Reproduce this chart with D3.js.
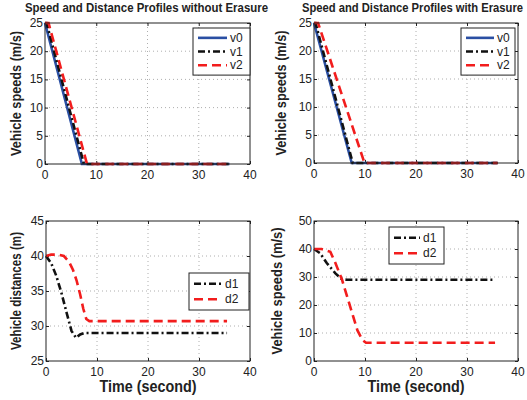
<!DOCTYPE html>
<html>
<head>
<meta charset="utf-8">
<script src="https://cdn.jsdelivr.net/npm/d3@7"></script>
<style>
  body { margin: 0; background: #fff; }
  svg { display: block; }
  .tick-label { font-family: "Liberation Sans", Arial, sans-serif; font-size: 12px; fill: #222; }
  .bold-label { font-family: "Liberation Sans Narrow", "Liberation Sans", Arial, sans-serif; font-weight: bold; fill: #222; }
</style>
</head>
<body>
<div id="chart"></div>
<script>
// tick values
const timeTicks = [0, 10, 20, 30, 40];
const speedTicks = [0, 5, 10, 15, 20, 25];
const distTicks = [25, 30, 35, 40, 45];
const distTicks2 = [0, 10, 20, 30, 40, 50];

// top left: speeds without erasure, [time, speed]
const v0NoErasure = [[0, 25], [7.2, 0], [36, 0]];
const v1NoErasure = [[0, 25], [0.3, 25], [7.6, 0], [36, 0]];
const v2NoErasure = [[0, 25], [0.7, 25], [8.2, 0], [36, 0]];

// top right: speeds with erasure
const v0Erasure = [[0, 25], [7.4, 0], [36, 0]];
const v1Erasure = [[0, 25], [0.3, 25], [7.6, 0], [36, 0]];
const v2Erasure = [[0, 25], [0.8, 25], [9.9, 0], [36, 0]];

// bottom left: distances without erasure
const d1NoErasure = [[0, 40], [1, 39], [2, 37.2], [3, 34.8], [4, 32], [5, 29.3], [5.9, 28.3], [6.7, 28.8], [7.5, 29], [35.5, 29]];
const d2NoErasure = [[0, 40], [1, 40.2], [2.5, 40.2], [3.5, 40], [4.5, 39.2], [5.3, 38], [6, 36.5], [6.7, 34.5], [7.3, 32.5], [7.9, 31], [8.5, 30.7], [35.5, 30.7]];

// bottom right: distances with erasure
const d1Erasure = [[0, 40], [1.2, 38.5], [2.5, 35], [4.2, 31.3], [5.5, 29.2], [6.5, 29], [35.5, 29]];
const d2Erasure = [[0, 40], [1.5, 40], [3.2, 39], [4.2, 35], [5.5, 29], [6.5, 23], [7.5, 17], [8.5, 11], [9.5, 7.5], [10.2, 6.5], [35.5, 6.5]];

const styles = {
  v0: { color: "#2a4fa3", dash: null },
  v1: { color: "#111", dash: "7,3,2,3" },
  v2: { color: "#f21d1d", dash: "9,5" },
  d1: { color: "#111", dash: "7,3,2,3" },
  d2: { color: "#f21d1d", dash: "9,5" }
};

const svg = d3.select("#chart").append("svg")
    .attr("width", 527)
    .attr("height", 400);

function drawPanel(p) {
  const x = d3.scaleLinear().domain([0, 40]).range([p.left, p.right]);
  const y = d3.scaleLinear().domain(p.yDomain).range([p.bottom, p.top]);
  const g = svg.append("g");

  // grid
  g.append("g")
    .selectAll("line")
    .data(timeTicks.slice(1, -1))
    .enter()
    .append("line")
      .attr("x1", d => x(d)).attr("x2", d => x(d))
      .attr("y1", p.top).attr("y2", p.bottom)
      .attr("stroke", "#999").attr("stroke-width", 0.8)
      .attr("stroke-dasharray", "1,3");
  g.append("g")
    .selectAll("line")
    .data(p.yTicks.slice(1, -1))
    .enter()
    .append("line")
      .attr("x1", p.left).attr("x2", p.right)
      .attr("y1", d => y(d)).attr("y2", d => y(d))
      .attr("stroke", "#999").attr("stroke-width", 0.8)
      .attr("stroke-dasharray", "1,3");

  // inward ticks
  const tickLen = 3;
  g.append("g").call(d3.axisTop(x).tickValues(timeTicks).tickSize(tickLen).tickFormat(""))
    .attr("transform", `translate(0,${p.bottom})`)
    .call(a => a.select(".domain").remove());
  g.append("g").call(d3.axisBottom(x).tickValues(timeTicks).tickSize(tickLen).tickFormat(""))
    .attr("transform", `translate(0,${p.top})`)
    .call(a => a.select(".domain").remove());
  g.append("g").call(d3.axisRight(y).tickValues(p.yTicks).tickSize(tickLen).tickFormat(""))
    .attr("transform", `translate(${p.left},0)`)
    .call(a => a.select(".domain").remove());
  g.append("g").call(d3.axisLeft(y).tickValues(p.yTicks).tickSize(tickLen).tickFormat(""))
    .attr("transform", `translate(${p.right},0)`)
    .call(a => a.select(".domain").remove());
  g.selectAll(".tick line").attr("stroke", "#222");

  // tick labels
  g.append("g")
    .selectAll("text")
    .data(timeTicks)
    .enter()
    .append("text")
      .attr("class", "tick-label")
      .attr("x", d => x(d))
      .attr("y", p.bottom + 15)
      .attr("text-anchor", "middle")
      .text(d => d);
  g.append("g")
    .selectAll("text")
    .data(p.yTicks)
    .enter()
    .append("text")
      .attr("class", "tick-label")
      .attr("x", p.left - 2)
      .attr("y", d => y(d) + 4)
      .attr("text-anchor", "end")
      .text(d => d);

  // series
  const line = d3.line().x(d => x(d[0])).y(d => y(d[1]));
  p.series.forEach(s => {
    g.append("path")
      .datum(s.data)
      .attr("d", line)
      .attr("fill", "none")
      .attr("stroke", styles[s.name].color)
      .attr("stroke-width", 2.6)
      .attr("stroke-dasharray", styles[s.name].dash);
  });

  // box
  g.append("rect")
    .attr("x", p.left).attr("y", p.top)
    .attr("width", p.right - p.left).attr("height", p.bottom - p.top)
    .attr("fill", "none").attr("stroke", "#222").attr("stroke-width", 1);

  // legend
  const lg = p.legend;
  const rowH = lg.rowH;
  const lh = rowH * p.series.length + 6;
  const leg = g.append("g").attr("transform", `translate(${lg.x},${lg.y})`);
  leg.append("rect")
    .attr("width", lg.w).attr("height", lh)
    .attr("fill", "#fff").attr("stroke", "#222").attr("stroke-width", 1);
  p.series.forEach((s, i) => {
    const cy = 3 + rowH * (i + 0.5);
    leg.append("line")
      .attr("x1", 5).attr("x2", lg.lineW)
      .attr("y1", cy).attr("y2", cy)
      .attr("stroke", styles[s.name].color)
      .attr("stroke-width", 2.6)
      .attr("stroke-dasharray", styles[s.name].dash);
    leg.append("text")
      .attr("class", "tick-label")
      .attr("x", lg.lineW + 3)
      .attr("y", cy + 4)
      .text(s.name);
  });

  // axis labels
  svg.append("text")
    .attr("class", "bold-label")
    .attr("transform", `translate(${p.ylabelX},${(p.top + p.bottom) / 2}) rotate(-90)`)
    .attr("text-anchor", "middle")
    .attr("font-size", 15)
    .attr("textLength", p.ylabelW)
    .attr("lengthAdjust", "spacingAndGlyphs")
    .text(p.ylabel);

  if (p.title) {
    svg.append("text")
      .attr("class", "bold-label")
      .attr("x", p.titleX)
      .attr("y", 12)
      .attr("font-size", 12)
      .attr("textLength", p.titleW)
      .attr("lengthAdjust", "spacingAndGlyphs")
      .text(p.title);
  }
  if (p.xlabel) {
    svg.append("text")
      .attr("class", "bold-label")
      .attr("x", (p.left + p.right) / 2)
      .attr("y", 392)
      .attr("text-anchor", "middle")
      .attr("font-size", 16)
      .attr("textLength", 97)
      .attr("lengthAdjust", "spacingAndGlyphs")
      .text(p.xlabel);
  }
}

drawPanel({
  left: 45, right: 250, top: 23, bottom: 164,
  yDomain: [0, 25], yTicks: speedTicks,
  series: [{ name: "v0", data: v0NoErasure }, { name: "v1", data: v1NoErasure }, { name: "v2", data: v2NoErasure }],
  legend: { x: 193, y: 28, w: 57, rowH: 13.7, lineW: 34 },
  ylabel: "Vehicle speeds (m/s)", ylabelX: 21, ylabelW: 125,
  title: "Speed and Distance Profiles without Erasure", titleX: 25, titleW: 243
});

drawPanel({
  left: 314, right: 518, top: 23, bottom: 163,
  yDomain: [0, 25], yTicks: speedTicks,
  series: [{ name: "v0", data: v0Erasure }, { name: "v1", data: v1Erasure }, { name: "v2", data: v2Erasure }],
  legend: { x: 461, y: 28, w: 54, rowH: 13.7, lineW: 33 },
  ylabel: "Vehicle speeds (m/s)", ylabelX: 286, ylabelW: 125,
  title: "Speed and Distance Profiles with Erasure", titleX: 302, titleW: 221
});

drawPanel({
  left: 46, right: 250, top: 221, bottom: 361,
  yDomain: [25, 45], yTicks: distTicks,
  series: [{ name: "d1", data: d1NoErasure }, { name: "d2", data: d2NoErasure }],
  legend: { x: 189, y: 273, w: 60, rowH: 15.5, lineW: 33 },
  ylabel: "Vehicle distances (m)", ylabelX: 21, ylabelW: 118,
  xlabel: "Time (second)"
});

drawPanel({
  left: 314, right: 518, top: 221, bottom: 361,
  yDomain: [0, 50], yTicks: distTicks2,
  series: [{ name: "d1", data: d1Erasure }, { name: "d2", data: d2Erasure }],
  legend: { x: 389, y: 227, w: 55, rowH: 15.5, lineW: 31 },
  ylabel: "Vehicle speeds (m/s)", ylabelX: 282, ylabelW: 127,
  xlabel: "Time (second)"
});
</script>
</body>
</html>
